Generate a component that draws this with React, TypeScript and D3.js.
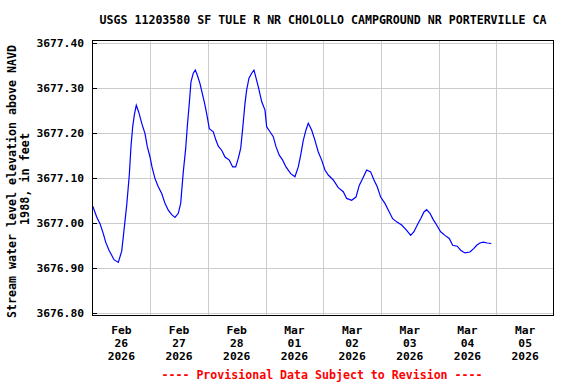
import React from "react";
import * as d3 from "d3";

const TITLE = "USGS 11203580 SF TULE R NR CHOLOLLO CAMPGROUND NR PORTERVILLE CA";
const Y_TITLE_1 = "Stream water level elevation above NAVD";
const Y_TITLE_2 = "1988, in feet";
const FOOTER = "---- Provisional Data Subject to Revision ----";

// hours since 2026-02-26 00:00
const hours = [
  0.1, 1.75, 3.12, 4.49, 5.49, 6.86, 7.99, 8.94, 10.73, 12.15, 13.1, 14.23, 15.31, 16.01, 16.72,
  17.39, 18.22, 19.22, 20.47, 21.84, 22.8, 23.92, 24.75, 26.0, 27.37, 28.79, 30.16, 31.53, 32.95,
  34.32, 35.69, 36.69, 37.77, 38.77, 39.43, 40.27, 40.97, 41.93, 42.76, 43.59, 44.72, 45.67, 46.8,
  47.75, 48.59, 50.25, 51.37, 52.33, 53.74, 55.12, 56.91, 58.32, 59.57, 60.65, 61.65, 62.48, 63.44,
  64.14, 65.1, 66.22, 67.18, 68.97, 70.38, 71.76, 72.46, 73.84, 75.21, 76.33, 77.7, 79.12, 80.49,
  82.45, 84.23, 85.61, 86.61, 87.69, 88.81, 89.77, 91.18, 92.55, 93.93, 95.34, 96.71, 98.09,
  100.17, 102.25, 104.33, 105.74, 107.82, 109.61, 110.98, 112.4, 114.06, 115.72, 117.1, 118.47,
  119.88, 121.67, 123.46, 124.88, 126.54, 128.62, 130.7, 132.36, 133.74, 135.11, 136.52, 137.9,
  139.02, 140.39, 141.76, 143.18, 144.84, 146.63, 148.42, 149.83, 151.75, 153.16, 154.95, 157.03,
  158.69, 159.82, 161.19, 162.56, 164.23, 165.89,
];

const levels = [
  3677.038, 3677.014, 3676.999, 3676.977, 3676.958, 3676.94, 3676.929, 3676.919, 3676.913,
  3676.938, 3676.984, 3677.04, 3677.107, 3677.17, 3677.214, 3677.24, 3677.262, 3677.247,
  3677.222, 3677.199, 3677.17, 3677.147, 3677.125, 3677.099, 3677.081, 3677.066, 3677.044,
  3677.029, 3677.019, 3677.013, 3677.022, 3677.044, 3677.114, 3677.166, 3677.214, 3677.266,
  3677.314, 3677.333, 3677.34, 3677.329, 3677.31, 3677.288, 3677.262, 3677.236, 3677.21,
  3677.203, 3677.184, 3677.171, 3677.162, 3677.147, 3677.14, 3677.125, 3677.125, 3677.144,
  3677.166, 3677.21, 3677.266, 3677.296, 3677.322, 3677.333, 3677.34, 3677.303, 3677.27,
  3677.251, 3677.214, 3677.203, 3677.192, 3677.17, 3677.151, 3677.14, 3677.125, 3677.11,
  3677.103, 3677.125, 3677.151, 3677.184, 3677.207, 3677.222, 3677.207, 3677.184, 3677.158,
  3677.14, 3677.118, 3677.107, 3677.096, 3677.079, 3677.07, 3677.055, 3677.051, 3677.058,
  3677.084, 3677.099, 3677.118, 3677.114, 3677.096, 3677.081, 3677.058, 3677.044, 3677.025,
  3677.01, 3677.003, 3676.996, 3676.984, 3676.973, 3676.981, 3676.996, 3677.01, 3677.025,
  3677.03, 3677.022, 3677.008, 3676.996, 3676.981, 3676.973, 3676.966, 3676.951, 3676.949,
  3676.94, 3676.934, 3676.936, 3676.944, 3676.951, 3676.956, 3676.958, 3676.956, 3676.955,
];

const yTicks = [3676.8, 3676.9, 3677.0, 3677.1, 3677.2, 3677.3, 3677.4];
const dayLabels = ["2026-02-26", "2026-02-27", "2026-02-28", "2026-03-01", "2026-03-02", "2026-03-03", "2026-03-04", "2026-03-05"];

const W = 576;
const H = 384;
const L = 92;
const R = 554;
const T = 40;
const B = 316;
const FONT = "'DejaVu Sans Mono', 'Liberation Mono', monospace";

function parseDay(s: string): Date {
  const [y, m, d] = s.split("-").map(Number);
  return new Date(y, m - 1, d);
}

export default function App() {
  const start = parseDay(dayLabels[0]);
  const end = d3.timeDay.offset(parseDay(dayLabels[dayLabels.length - 1]), 1);
  const x = d3.scaleTime().domain([start, end]).range([L + 0.5, R]);
  const y = d3.scaleLinear().domain([3676.794, 3677.4067]).range([B, T]);

  const data = hours.map((h, i) => ({ t: new Date(start.getTime() + h * 3600e3), v: levels[i] }));
  const line = d3
    .line<{ t: Date; v: number }>()
    .x((d) => x(d.t))
    .y((d) => y(d.v));

  const days = d3.timeDay.range(start, end).slice(1);
  const fmtM = d3.timeFormat("%b");
  const fmtD = d3.timeFormat("%d");
  const fmtY = d3.timeFormat("%Y");

  return (
    <svg
      width={W}
      height={H}
      style={{ position: "absolute", left: 0, top: 0, background: "#fff" }}
      fontFamily={FONT}
      fontWeight="bold"
    >
      <rect x={0} y={0} width={W} height={H} fill="#fff" />
      <text x={(L + R) / 2} y={24} textAnchor="middle" fontSize={11.5} textLength={447} lengthAdjust="spacingAndGlyphs">
        {TITLE}
      </text>
      {/* grid */}
      {yTicks.map((t) => (
        <line key={"gy" + t} x1={L} x2={R} y1={Math.round(y(t)) + 0.5} y2={Math.round(y(t)) + 0.5} stroke="#cccccc" strokeWidth={1} />
      ))}
      {days.map((d) => (
        <line key={"gx" + d.getTime()} x1={Math.round(x(d)) + 0.5} x2={Math.round(x(d)) + 0.5} y1={T} y2={B} stroke="#cccccc" strokeWidth={1} />
      ))}
      {/* data */}
      <path d={line(data) || ""} fill="none" stroke="#0000ff" strokeWidth={1.2} />
      {/* frame */}
      <rect x={L + 0.5} y={T + 0.5} width={R - L - 1} height={B - T - 1} fill="none" stroke="#000" strokeWidth={1} />
      {/* y ticks */}
      {yTicks.map((t) => (
        <g key={"yt" + t}>
          <line x1={L} x2={L + 5} y1={Math.round(y(t)) + 0.5} y2={Math.round(y(t)) + 0.5} stroke="#000" strokeWidth={1} />
          <text x={84} y={y(t) + 4} textAnchor="end" fontSize={11.3}>
            {d3.format(".2f")(t)}
          </text>
        </g>
      ))}
      {/* x labels */}
      {dayLabels.map((s) => {
        const noon = d3.timeHour.offset(parseDay(s), 12);
        const cx = x(noon);
        return (
          <g key={"xl" + s} fontSize={11.3} textAnchor="middle">
            <text x={cx} y={334}>{fmtM(noon)}</text>
            <text x={cx} y={347}>{fmtD(noon)}</text>
            <text x={cx} y={359.5}>{fmtY(noon)}</text>
          </g>
        );
      })}
      {/* y title */}
      <g transform={`translate(16, 181.5) rotate(-90)`}>
        <text x={0} y={0} textAnchor="middle" fontSize={11.5} textLength={273} lengthAdjust="spacingAndGlyphs">{Y_TITLE_1}</text>
      </g>
      <g transform={`translate(16, 179) rotate(-90)`}>
        <text x={0} y={13} textAnchor="middle" fontSize={11.5} textLength={92} lengthAdjust="spacingAndGlyphs">{Y_TITLE_2}</text>
      </g>
      <text x={322} y={379} textAnchor="middle" fontSize={11.5} fill="#ff0000" textLength={321} lengthAdjust="spacingAndGlyphs">
        {FOOTER}
      </text>
    </svg>
  );
}
